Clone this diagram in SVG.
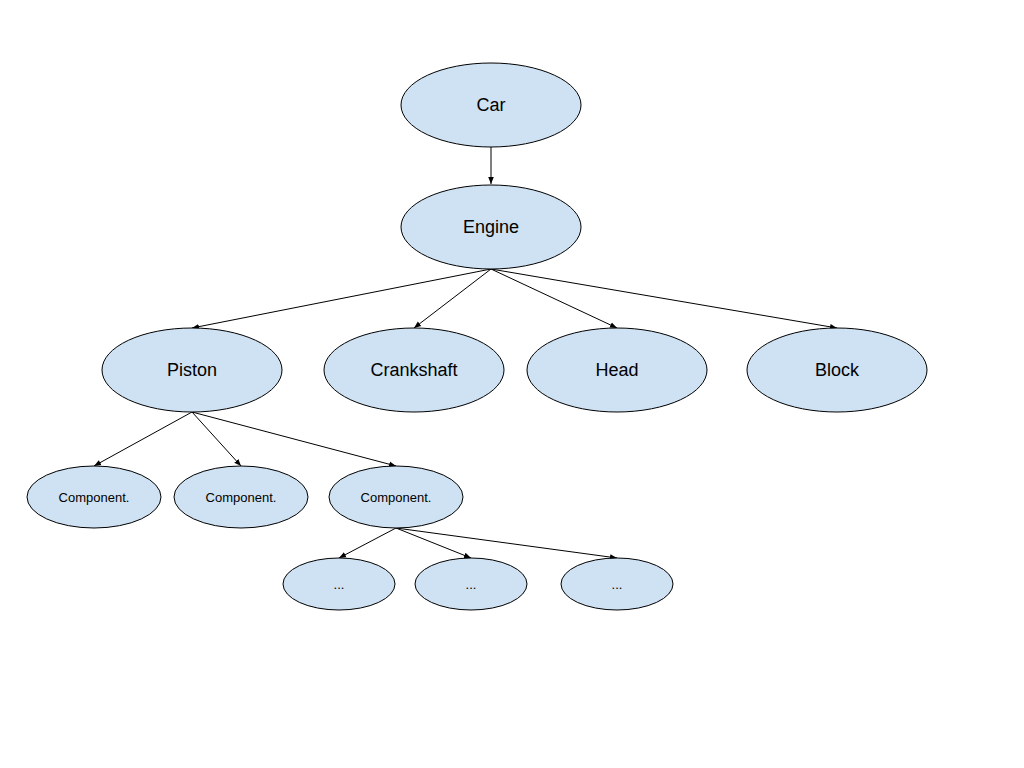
<svg xmlns="http://www.w3.org/2000/svg" width="1024" height="768" viewBox="0 0 1024 768">
<defs>
<marker id="ah" viewBox="0 0 10 10" refX="10" refY="5" markerWidth="7" markerHeight="7" markerUnits="userSpaceOnUse" orient="auto"><path d="M0,1 L10,5 L0,9 z" fill="#000"/></marker>
<style>
.n{fill:#cfe2f3;stroke:#000;stroke-width:1}
.t{font-family:"Liberation Sans",Arial,sans-serif;fill:#000;text-anchor:middle;dominant-baseline:central}
.l{font-size:18px}
.s{font-size:13px}
.c{stroke:#000;stroke-width:1;fill:none;marker-end:url(#ah)}
</style>
</defs>
<rect width="1024" height="768" fill="#fff"/>
<g id="connectors">
<line class="c" x1="491" y1="147" x2="491" y2="184"/>
<line class="c" x1="491" y1="269" x2="192" y2="328"/>
<line class="c" x1="491" y1="269" x2="414" y2="328"/>
<line class="c" x1="491" y1="269" x2="617" y2="328"/>
<line class="c" x1="491" y1="269" x2="837" y2="328"/>
<line class="c" x1="192" y1="412" x2="94" y2="466"/>
<line class="c" x1="192" y1="412" x2="241" y2="466"/>
<line class="c" x1="192" y1="412" x2="396" y2="466"/>
<line class="c" x1="396" y1="528" x2="339" y2="558"/>
<line class="c" x1="396" y1="528" x2="471" y2="558"/>
<line class="c" x1="396" y1="528" x2="617" y2="558"/>
</g>
<g id="car"><ellipse class="n" cx="491" cy="105" rx="90" ry="42"/><text class="t l" x="491" y="105">Car</text></g>
<g id="engine"><ellipse class="n" cx="491" cy="227" rx="90" ry="42"/><text class="t l" x="491" y="227">Engine</text></g>
<g id="piston"><ellipse class="n" cx="192" cy="370" rx="90" ry="42"/><text class="t l" x="192" y="370">Piston</text></g>
<g id="crankshaft"><ellipse class="n" cx="414" cy="370" rx="90" ry="42"/><text class="t l" x="414" y="370">Crankshaft</text></g>
<g id="head"><ellipse class="n" cx="617" cy="370" rx="90" ry="42"/><text class="t l" x="617" y="370">Head</text></g>
<g id="block"><ellipse class="n" cx="837" cy="370" rx="90" ry="42"/><text class="t l" x="837" y="370">Block</text></g>
<g id="component1"><ellipse class="n" cx="94" cy="497" rx="67" ry="31"/><text class="t s" x="94" y="497">Component.</text></g>
<g id="component2"><ellipse class="n" cx="241" cy="497" rx="67" ry="31"/><text class="t s" x="241" y="497">Component.</text></g>
<g id="component3"><ellipse class="n" cx="396" cy="497" rx="67" ry="31"/><text class="t s" x="396" y="497">Component.</text></g>
<g id="sub1"><ellipse class="n" cx="339" cy="584" rx="56" ry="26"/><text class="t s" x="339" y="584">...</text></g>
<g id="sub2"><ellipse class="n" cx="471" cy="584" rx="56" ry="26"/><text class="t s" x="471" y="584">...</text></g>
<g id="sub3"><ellipse class="n" cx="617" cy="584" rx="56" ry="26"/><text class="t s" x="617" y="584">...</text></g>
</svg>
